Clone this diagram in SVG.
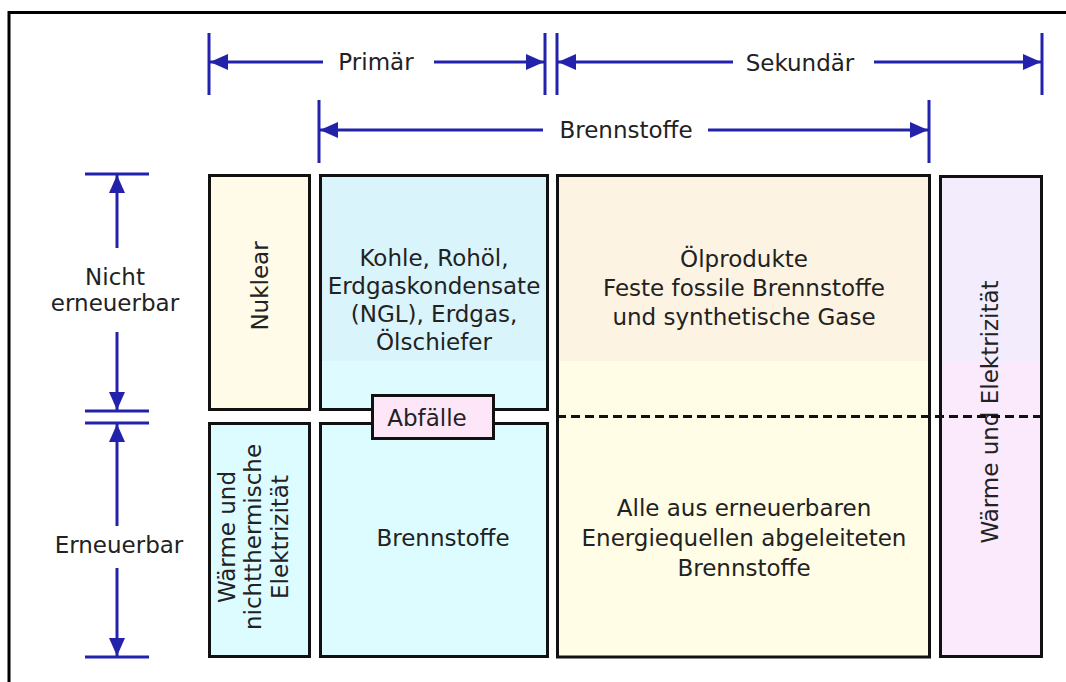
<svg xmlns="http://www.w3.org/2000/svg" width="1066" height="682" viewBox="0 0 1066 682">
<style>
.t{font-family:"DejaVu Sans","Liberation Sans",sans-serif;font-size:23px;fill:#222;text-anchor:middle}
.box{stroke:#111;stroke-width:3}
.dim{stroke:#2222aa;stroke-width:3;fill:none}
.ar{stroke:#2222aa;stroke-width:3;fill:none;marker-end:url(#ah)}
.dash{stroke:#111;stroke-width:3;stroke-dasharray:9,5}
</style>
<defs>
<marker id="ah" markerWidth="18" markerHeight="16" refX="18" refY="8" orient="auto" markerUnits="userSpaceOnUse"><path d="M0,0 L18,8 L0,16 z" fill="#2222aa"/></marker>
</defs>
<rect width="1066" height="682" fill="#fff"/>
<path d="M9,682 V12.5 H1066" fill="none" stroke="#000" stroke-width="3"/>

<g id="labels-dim">
<text class="t" x="376" y="70">Primär</text>
<text class="t" x="800" y="71">Sekundär</text>
<text class="t" x="626" y="138">Brennstoffe</text>
<text class="t" x="115" y="285">Nicht</text>
<text class="t" x="115" y="311">erneuerbar</text>
<text class="t" x="119" y="553">Erneuerbar</text>
</g>

<g id="nuklear">
<rect class="box" x="209.5" y="175.5" width="100" height="234" fill="#fffbe8"/>
<text class="t" transform="translate(268,286) rotate(-90)">Nuklear</text>
</g>

<g id="waerme-nichtthermisch">
<rect class="box" x="209.5" y="423.5" width="100" height="233" fill="#ddfcff"/>
<g transform="translate(0,537) rotate(-90)">
<text class="t" x="0" y="235">Wärme und</text>
<text class="t" x="0" y="261">nichtthermische</text>
<text class="t" x="0" y="288">Elektrizität</text>
</g>
</g>

<g id="primaer-fossil">
<rect x="320.5" y="175.5" width="227" height="186" fill="#d9f4fb"/>
<rect x="320.5" y="361" width="227" height="48.5" fill="#defcff"/>
<rect class="box" x="320.5" y="175.5" width="227" height="234" fill="none"/>
<text class="t" x="434" y="266">Kohle, Rohöl,</text>
<text class="t" x="434" y="294">Erdgaskondensate</text>
<text class="t" x="434" y="322">(NGL), Erdgas,</text>
<text class="t" x="434" y="350">Ölschiefer</text>
</g>

<g id="primaer-brennstoffe">
<rect class="box" x="320.5" y="423.5" width="227" height="233" fill="#ddfcff"/>
<text class="t" x="443" y="546">Brennstoffe</text>
</g>

<g id="abfaelle">
<rect class="box" x="372.5" y="395.5" width="121" height="43" fill="#fde6f8"/>
<text class="t" x="427" y="426">Abfälle</text>
</g>

<g id="sekundaer">
<rect x="557.5" y="175.5" width="372" height="186" fill="#fdf3e2"/>
<rect x="557.5" y="361" width="372" height="296" fill="#fffde5"/>
<rect class="box" x="557.5" y="175.5" width="372" height="481.5" fill="none"/>
<text class="t" x="744" y="267">Ölprodukte</text>
<text class="t" x="744" y="296">Feste fossile Brennstoffe</text>
<text class="t" x="744" y="325">und synthetische Gase</text>
<text class="t" x="744" y="516">Alle aus erneuerbaren</text>
<text class="t" x="744" y="546">Energiequellen abgeleiteten</text>
<text class="t" x="744" y="576">Brennstoffe</text>
</g>

<g id="waerme-elektrizitaet">
<rect x="940.5" y="176.5" width="101" height="185" fill="#f3ecfd"/>
<rect x="940.5" y="361" width="101" height="295.5" fill="#fbeafc"/>
<rect class="box" x="940.5" y="176.5" width="101" height="480" fill="none"/>
<text class="t" transform="translate(998,412) rotate(-90)">Wärme und Elektrizität</text>
</g>

<g id="connectors">
<line class="dim" x1="209" y1="33" x2="209" y2="95"/>
<line class="dim" x1="545" y1="33" x2="545" y2="95"/>
<line class="dim" x1="557" y1="33" x2="557" y2="95"/>
<line class="dim" x1="1042" y1="33" x2="1042" y2="95"/>
<line class="dim" x1="319" y1="100" x2="319" y2="163"/>
<line class="dim" x1="929" y1="100" x2="929" y2="163"/>
<line class="ar" x1="323" y1="62" x2="210" y2="62"/>
<line class="ar" x1="434" y1="62" x2="544" y2="62"/>
<line class="ar" x1="733" y1="62" x2="558" y2="62"/>
<line class="ar" x1="874" y1="62" x2="1041" y2="62"/>
<line class="ar" x1="543" y1="130" x2="320" y2="130"/>
<line class="ar" x1="708" y1="130" x2="928" y2="130"/>
<line class="dim" x1="85" y1="174" x2="149" y2="174"/>
<line class="dim" x1="85" y1="411" x2="149" y2="411"/>
<line class="dim" x1="85" y1="423" x2="149" y2="423"/>
<line class="dim" x1="85" y1="657" x2="149" y2="657"/>
<line class="ar" x1="117" y1="248" x2="117" y2="175"/>
<line class="ar" x1="117" y1="332" x2="117" y2="410"/>
<line class="ar" x1="117" y1="526" x2="117" y2="424"/>
<line class="ar" x1="117" y1="568" x2="117" y2="656"/>
<line class="dash" x1="557" y1="416.5" x2="1042" y2="416.5"/>
</g>
</svg>
